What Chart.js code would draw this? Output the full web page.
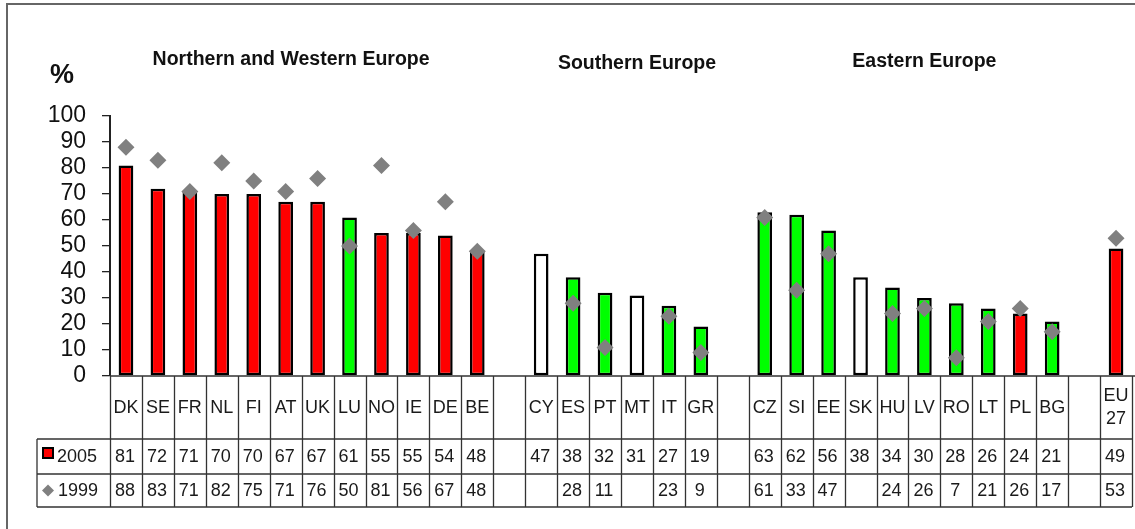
<!DOCTYPE html>
<html>
<head>
<meta charset="utf-8">
<script src="https://cdn.jsdelivr.net/npm/chart.js@4.4.1/dist/chart.umd.min.js"></script>
<style>
  html, body { margin: 0; padding: 0; background: #fff; }
  #wrap { width: 1135px; height: 529px; }
</style>
</head>
<body>
<div id="wrap"><canvas id="chart" width="1135" height="529"></canvas></div>
<script>
// categories - the empty strings are the gaps between the country groups
const countries = ['DK', 'SE', 'FR', 'NL', 'FI', 'AT', 'UK', 'LU', 'NO', 'IE', 'DE', 'BE', '',
  'CY', 'ES', 'PT', 'MT', 'IT', 'GR', '',
  'CZ', 'SI', 'EE', 'SK', 'HU', 'LV', 'RO', 'LT', 'PL', 'BG', '',
  ['EU', '27']];
const values2005 = [81, 72, 71, 70, 70, 67, 67, 61, 55, 55, 54, 48, null,
  47, 38, 32, 31, 27, 19, null,
  63, 62, 56, 38, 34, 30, 28, 26, 24, 21, null,
  49];
const values1999 = [88, 83, 71, 82, 75, 71, 76, 50, 81, 56, 67, 48, null,
  null, 28, 11, null, 23, 9, null,
  61, 33, 47, null, 24, 26, 7, 21, 26, 17, null,
  53];
const yTicks = [0, 10, 20, 30, 40, 50, 60, 70, 80, 90, 100];
const seriesNames = ['2005', '1999'];
const groupTitles = ['Northern and Western Europe', 'Southern Europe', 'Eastern Europe'];

// bar fills as in the source figure
const RED = '#ff0000', GREEN = '#00ff00', WHITE = '#ffffff';
const barColours = [RED, RED, RED, RED, RED, RED, RED, GREEN, RED, RED, RED, RED, WHITE,
  WHITE, GREEN, GREEN, WHITE, GREEN, GREEN, WHITE,
  GREEN, GREEN, GREEN, WHITE, GREEN, GREEN, GREEN, GREEN, RED, GREEN, WHITE,
  RED];

const FONT = '"Liberation Sans", Arial, sans-serif';
const LINE = '#333';

// frame, group headings and the "%" sign
const decorations = {
  id: 'decorations',
  beforeDraw(chart) {
    const ctx = chart.ctx;
    ctx.save();
    ctx.strokeStyle = '#666';
    ctx.lineWidth = 2;
    ctx.beginPath();
    ctx.moveTo(7, chart.height);
    ctx.lineTo(7, 4);
    ctx.lineTo(chart.width, 4);
    ctx.stroke();
    ctx.restore();
  },
  afterDraw(chart) {
    const { ctx, scales: { x } } = chart;
    const anchors = [[5.17, 60], [16, 64], [25, 62]];
    ctx.save();
    ctx.fillStyle = '#111';
    ctx.textAlign = 'center';
    ctx.textBaseline = 'middle';
    ctx.font = 'bold 19.5px ' + FONT;
    groupTitles.forEach((t, i) => {
      ctx.fillText(t, x.getPixelForValue(anchors[i][0]), anchors[i][1]);
    });
    ctx.font = 'bold 27px ' + FONT;
    ctx.fillText('%', 62, 76);
    ctx.restore();
  }
};

// data table under the x axis
const dataTable = {
  id: 'dataTable',
  afterDraw(chart) {
    const { ctx, chartArea, scales: { x } } = chart;
    const n = countries.length;
    const step = x.getPixelForValue(1) - x.getPixelForValue(0);
    const left = chartArea.left;
    const right = left + step * n;
    const top = chartArea.bottom;
    const r1 = top + 63, r2 = r1 + 35, r3 = r2 + 33;
    const headLeft = 37;

    ctx.save();
    ctx.strokeStyle = LINE;
    ctx.lineWidth = 1.3;
    ctx.beginPath();
    // x axis line
    ctx.moveTo(left, top);
    ctx.lineTo(chart.width, top);
    // column lines
    for (let i = 0; i <= n; i++) {
      const px = Math.round(left + i * step) + 0.5;
      ctx.moveTo(px, top);
      ctx.lineTo(px, r3);
    }
    [r1, r2, r3].forEach(py => {
      ctx.moveTo(headLeft, py);
      ctx.lineTo(right, py);
    });
    ctx.moveTo(headLeft, r1);
    ctx.lineTo(headLeft, r3);
    ctx.stroke();

    ctx.fillStyle = '#1a1a1a';
    ctx.font = '18px ' + FONT;
    ctx.textAlign = 'center';
    ctx.textBaseline = 'middle';
    countries.forEach((c, i) => {
      const cx = x.getPixelForValue(i);
      if (Array.isArray(c)) {
        ctx.fillText(c[0], cx, (top + r1) / 2 - 11);
        ctx.fillText(c[1], cx, (top + r1) / 2 + 12);
      } else if (c) {
        ctx.fillText(c, cx, (top + r1) / 2 + 1);
      }
      if (values2005[i] != null) ctx.fillText(values2005[i], cx - 1, (r1 + r2) / 2 + 1);
      if (values1999[i] != null) ctx.fillText(values1999[i], cx - 1, (r2 + r3) / 2 + 1);
    });

    // row headers with legend keys
    ctx.textAlign = 'left';
    ctx.fillText(seriesNames[0], 57, (r1 + r2) / 2 + 1);
    ctx.fillText(seriesNames[1], 58, (r2 + r3) / 2 + 1);
    ctx.fillStyle = RED;
    ctx.strokeStyle = '#000';
    ctx.lineWidth = 2;
    ctx.fillRect(43, 448, 10, 10);
    ctx.strokeRect(43, 448, 10, 10);
    ctx.fillStyle = '#808080';
    ctx.beginPath();
    const dy = (r2 + r3) / 2;
    ctx.moveTo(48, dy - 6);
    ctx.lineTo(54, dy);
    ctx.lineTo(48, dy + 6);
    ctx.lineTo(42, dy);
    ctx.closePath();
    ctx.fill();
    ctx.restore();
  }
};

Chart.defaults.font.family = FONT;

new Chart(document.getElementById('chart'), {
  type: 'bar',
  data: {
    labels: countries,
    datasets: [
      {
        type: 'line',
        label: seriesNames[1],
        data: values1999,
        showLine: false,
        pointStyle: 'rectRot',
        pointRadius: 8.5,
        pointHoverRadius: 8.5,
        pointBackgroundColor: '#808080',
        pointBorderColor: '#808080',
        pointBorderWidth: 0,
        order: 0
      },
      {
        label: seriesNames[0],
        data: values2005,
        backgroundColor: barColours,
        borderColor: '#000',
        borderWidth: 2.5,
        borderSkipped: false,
        categoryPercentage: 1,
        barPercentage: 0.46,
        order: 1
      }
    ]
  },
  options: {
    responsive: false,
    animation: false,
    events: [],
    layout: { autoPadding: false, padding: { top: 116, bottom: 153, right: 3, left: 0 } },
    plugins: {
      legend: { display: false },
      tooltip: { enabled: false }
    },
    scales: {
      x: { display: false },
      y: {
        min: 0,
        max: 100,
        afterFit: (scale) => { scale.width = 110; },
        afterBuildTicks: (scale) => { scale.ticks = yTicks.map(v => ({ value: v })); },
        border: { display: true, color: '#222', width: 2 },
        grid: { drawOnChartArea: false, drawTicks: true, tickLength: 8, color: '#222', lineWidth: 1.3 },
        ticks: { color: '#111', padding: 16, autoSkip: false, font: { size: 23 } }
      }
    }
  },
  plugins: [decorations, dataTable]
});
</script>
</body>
</html>
